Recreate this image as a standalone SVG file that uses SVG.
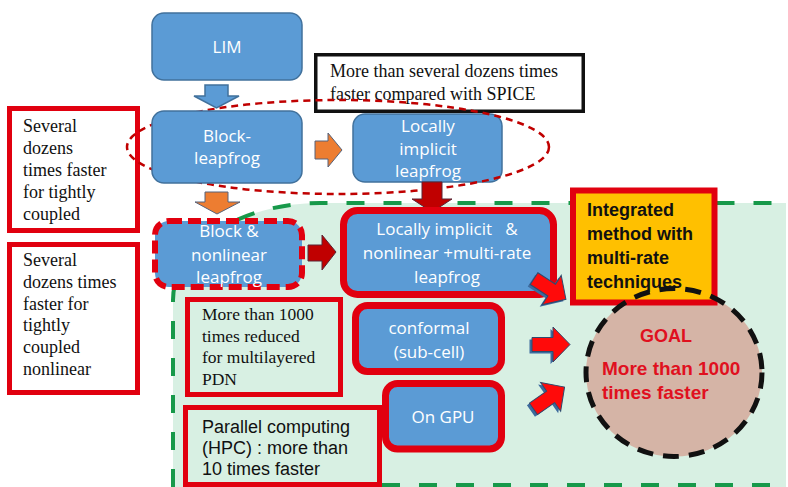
<svg xmlns="http://www.w3.org/2000/svg" width="788" height="487" viewBox="0 0 788 487">
  <style>
    .blue { fill: #5b9bd5; stroke: #41719c; stroke-width: 1.5; }
    .redframe { fill: #5b9bd5; stroke: #e1000f; stroke-width: 7; }
    .note { fill: #ffffff; stroke: #e1000f; stroke-width: 5; }
    .mint { fill: #d8f0e3; stroke: #e1000f; stroke-width: 5; }
    .wt { font-family: "Open Sans", "Liberation Sans", sans-serif; font-size: 17px; fill: #ffffff; text-anchor: middle; }
    .serif { font-family: "Liberation Serif", "Times New Roman", serif; font-size: 18px; fill: #111111; }
    .sans { font-family: "Liberation Sans", Arial, sans-serif; font-size: 18px; fill: #111111; }
    .goal { font-family: "Liberation Sans", Arial, sans-serif; font-weight: bold; fill: #e0101e; }
    .green { fill: none; stroke: #17994a; stroke-width: 4; stroke-dasharray: 18 19; }
    .orange { fill: #ed7d31; stroke: #56627a; stroke-width: 1; }
    .dred { fill: #c00000; stroke: #5a2434; stroke-width: 1; }
    .bred { fill: #ff0a0a; stroke: #2e4a6e; stroke-width: 1; }
    .shadow { fill: #3d6b9e; }
  </style>
  <defs>
    <!-- block arrow pointing along +x, centred on the origin -->
    <path id="fat-arrow" d="M-19,-7 L2,-7 L2,-17.5 L19,0 L2,17.5 L2,7 L-19,7 Z"/>
  </defs>

  <!-- shaded target area with green dashed outline -->
  <g id="target-area">
    <path d="M173,487 L173,300 A147,97 0 0 1 320,203 L786,203 L786,487 Z" fill="#d8f0e3"/>
    <path class="green" d="M173,487 L173,300 A147,97 0 0 1 320,203 L786,203"/>
    <path class="green" d="M382,485 L786,485"/>
  </g>

  <!-- left-hand notes -->
  <g id="note-tightly-coupled">
    <rect class="note" x="9.5" y="108.5" width="128" height="122"/>
    <text class="serif" x="23" y="132">Several</text>
    <text class="serif" x="23" y="154">dozens</text>
    <text class="serif" x="23" y="176">times  faster</text>
    <text class="serif" x="23" y="198">for tightly</text>
    <text class="serif" x="23" y="220">coupled</text>
  </g>
  <g id="note-tightly-coupled-nonlinear">
    <rect class="note" x="9.5" y="244.5" width="128" height="148"/>
    <text class="serif" x="23" y="266">Several</text>
    <text class="serif" x="23" y="288">dozens times</text>
    <text class="serif" x="23" y="310">faster for</text>
    <text class="serif" x="23" y="331">tightly</text>
    <text class="serif" x="23" y="353">coupled</text>
    <text class="serif" x="23" y="375">nonlinear</text>
  </g>

  <g id="lim">
    <rect class="blue" x="152" y="13" width="150" height="67" rx="12"/>
    <text class="wt" x="227" y="53">LIM</text>
  </g>

  <g id="note-spice">
    <rect x="315.75" y="54.75" width="267.5" height="56.5" fill="#ffffff" stroke="#111111" stroke-width="3.5"/>
    <text class="serif" x="330" y="77">More than several dozens times</text>
    <text class="serif" x="330" y="100">faster compared with  SPICE</text>
  </g>

  <g id="locally-implicit-leapfrog">
    <rect class="blue" x="353" y="114" width="149" height="68" rx="12"/>
    <text class="wt" x="428" y="132">Locally</text>
    <text class="wt" x="428" y="155">implicit</text>
    <text class="wt" x="428" y="177">leapfrog</text>
  </g>

  <!-- red dashed grouping ellipse -->
  <g id="group-ellipse">
    <ellipse cx="338" cy="147" rx="211" ry="47" fill="none" stroke="#c00000" stroke-width="2.5" stroke-dasharray="7 5"/>
  </g>

  <g id="block-leapfrog">
    <rect class="blue" x="152" y="111" width="150" height="72" rx="12"/>
    <text class="wt" x="227" y="142">Block-</text>
    <text class="wt" x="227" y="164">leapfrog</text>
  </g>

  <g id="connectors">
    <path class="blue" d="M205,85 L228,85 L228,96 L239,96 L216.5,108 L194,96 L205,96 Z"/>
    <path class="orange" d="M205,192 L228,192 L228,202 L240,202 L217,214 L195,202 L205,202 Z"/>
    <path class="orange" d="M315,141 L328,141 L328,133 L342,150 L328,167 L328,159 L315,159 Z"/>
    <path class="dred" d="M308,245 L322,245 L322,235 L336,252 L322,270 L322,261 L308,261 Z"/>
    <path class="dred" d="M422,182 L442,182 L442,199 L452,199 L432,212 L412,199 L422,199 Z"/>
  </g>

  <g id="block-nonlinear-leapfrog">
    <rect x="155" y="221" width="147" height="66" rx="14" fill="#5b9bd5" stroke="#e1000f" stroke-width="6" stroke-dasharray="13 6"/>
    <text class="wt" x="229" y="237">Block &amp;</text>
    <text class="wt" x="229" y="261">nonlinear</text>
    <text class="wt" x="229" y="283">leapfrog</text>
  </g>

  <g id="note-pdn">
    <rect class="mint" x="187.5" y="299.5" width="153" height="95"/>
    <text class="serif" x="202" y="320" style="font-size:17.5px">More than 1000</text>
    <text class="serif" x="202" y="342" style="font-size:17.5px">times reduced</text>
    <text class="serif" x="202" y="363" style="font-size:17.5px">for multilayered</text>
    <text class="serif" x="202" y="385" style="font-size:17.5px">PDN</text>
  </g>

  <g id="note-hpc">
    <rect class="mint" x="185.5" y="407.5" width="194" height="77"/>
    <text class="sans" x="202" y="433">Parallel computing</text>
    <text class="sans" x="202" y="454">(HPC) : more than</text>
    <text class="sans" x="202" y="475">10 times faster</text>
  </g>

  <g id="locally-implicit-nonlinear-multirate">
    <rect class="redframe" x="343.5" y="210.5" width="210" height="84" rx="14"/>
    <text class="wt" x="447" y="235">Locally implicit &#160; &amp;</text>
    <text class="wt" x="447" y="259">nonlinear +multi-rate</text>
    <text class="wt" x="447" y="283">leapfrog</text>
  </g>

  <g id="conformal">
    <rect class="redframe" x="355.5" y="305.5" width="146" height="66" rx="12"/>
    <text class="wt" x="429" y="334">conformal</text>
    <text class="wt" x="429" y="358">(sub-cell)</text>
  </g>

  <g id="on-gpu">
    <rect class="redframe" x="385.5" y="383.5" width="116" height="65.5" rx="12"/>
    <text class="wt" x="443" y="423">On GPU</text>
  </g>

  <g id="goal">
    <ellipse cx="674" cy="372.5" rx="88" ry="84" fill="#d5b4a6"/>
  </g>

  <g id="integrated-method">
    <rect x="573" y="190.5" width="141.5" height="112" fill="#ffc000" stroke="#e1000f" stroke-width="6"/>
    <text class="sans" x="587" y="216" font-weight="bold">Integrated</text>
    <text class="sans" x="587" y="240" font-weight="bold">method with</text>
    <text class="sans" x="587" y="264" font-weight="bold">multi-rate</text>
    <text class="sans" x="587" y="288" font-weight="bold">techniques</text>
  </g>

  <g id="goal-outline">
    <ellipse cx="674" cy="372.5" rx="88" ry="84" fill="none" stroke="#111111" stroke-width="5" stroke-dasharray="16 10"/>
    <text class="goal" x="666" y="342" font-size="18" text-anchor="middle">GOAL</text>
    <text class="goal" x="602" y="375" font-size="19">More than 1000</text>
    <text class="goal" x="602" y="399" font-size="19">times faster</text>
  </g>

  <g id="connectors-to-goal">
    <use href="#fat-arrow" class="shadow" transform="translate(547.5,291) rotate(33)"/>
    <use href="#fat-arrow" class="bred" transform="translate(550,289) rotate(33)"/>
    <use href="#fat-arrow" class="shadow" transform="translate(548.5,346.5)"/>
    <use href="#fat-arrow" class="bred" transform="translate(551,344.5)"/>
    <use href="#fat-arrow" class="shadow" transform="translate(546.5,400) rotate(-35)"/>
    <use href="#fat-arrow" class="bred" transform="translate(549,398) rotate(-35)"/>
  </g>
</svg>
